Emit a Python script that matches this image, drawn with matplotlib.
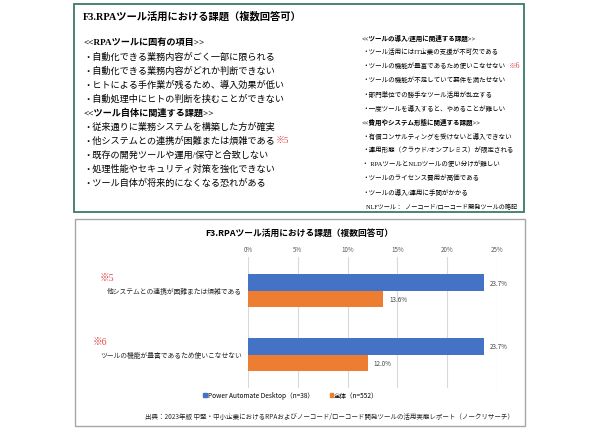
import numpy as np
import matplotlib
matplotlib.use('Agg')
import matplotlib.pyplot as plt
from matplotlib.patches import Rectangle, Patch

plt.rcParams['font.family'] = ['Noto Sans CJK JP', 'DejaVu Sans']

# text box contents
box_title = 'F3.RPAツール活用における課題（複数回答可）'
left_lines = [
    ('<<RPAツールに固有の項目>>', True),
    ('・自動化できる業務内容がごく一部に限られる', False),
    ('・自動化できる業務内容がどれか判断できない', False),
    ('・ヒトによる手作業が残るため、導入効果が低い', False),
    ('・自動処理中にヒトの判断を挟むことができない', False),
    ('<<ツール自体に関連する課題>>', True),
    ('・従来通りに業務システムを構築した方が確実', False),
    ('・他システムとの連携が困難または煩雑である', False),
    ('・既存の開発ツールや運用/保守と合致しない', False),
    ('・処理性能やセキュリティ対策を強化できない', False),
    ('・ツール自体が将来的になくなる恐れがある', False),
]
right_lines = [
    ('<<ツールの導入/運用に関連する課題>>', True),
    ('・ツール活用にはIT企業の支援が不可欠である', False),
    ('・ツールの機能が豊富であるため使いこなせない', False),
    ('・ツールの機能が不足していて要件を満たせない', False),
    ('・部門単位での勝手なツール活用が乱立する', False),
    ('・一度ツールを導入すると、やめることが難しい', False),
    ('<<費用やシステム形態に関連する課題>>', True),
    ('・有償コンサルティングを受けないと導入できない', False),
    ('・運用形態（クラウド/オンプレミス）が限定される', False),
    ('・ RPAツールとNLDツールの使い分けが難しい', False),
    ('・ツールのライセンス費用が高価である', False),
    ('・ツールの導入/運用に手間がかかる', False),
]
box_note = 'NLFツール：  ノーコード/ローコード開発ツールの略記'

# chart data
chart_title = 'F3.RPAツール活用における課題（複数回答可）'
categories = ['他システムとの連携が困難または煩雑である', 'ツールの機能が豊富であるため使いこなせない']
notes = ['※5', '※6']
pad_values = [23.7, 23.7]
all_values = [13.6, 12.0]
series_names = ['Power Automate Desktop（n=38）', '全体（n=552）']
xticks = [0, 5, 10, 15, 20, 25]
source = '出典：2023年版 中堅・中小企業におけるRPAおよびノーコード/ローコード開発ツールの活用実態レポート（ノークリサーチ）'

W, H = 590, 435
fig = plt.figure(figsize=(W / 100, H / 100), dpi=100)


def fx(x):
    return x / W


def fy(y):
    return 1 - y / H


red = '#e0474c'
serif_cjk = ['Liberation Serif', 'Noto Sans CJK JP']

# top box
fig.patches.append(Rectangle((fx(74), fy(213)), fx(450), 208 / H, transform=fig.transFigure,
                             fill=False, edgecolor='#3d7a68', lw=1.3))
fig.text(fx(83), fy(17), box_title, fontsize=7.4, fontweight='bold', family=serif_cjk,
         ha='left', va='center')
for i, (t, b) in enumerate(left_lines):
    fig.text(fx(83), fy(43 + 14 * i), t, fontsize=6.6, fontweight='bold' if b else 'normal',
             family=serif_cjk, ha='left', va='center')
fig.text(fx(276), fy(141), '※5', fontsize=6.5, color=red, family=serif_cjk, ha='left', va='center')
for i, (t, b) in enumerate(right_lines):
    fig.text(fx(362), fy(38 + 14 * i), t, fontsize=4.7, fontweight='bold' if b else 'normal',
             family=serif_cjk, ha='left', va='center')
fig.text(fx(509), fy(66), '※6', fontsize=5.5, color=red, family=serif_cjk, ha='left', va='center')
fig.text(fx(517), fy(207), box_note, fontsize=4.4, family=serif_cjk, ha='right', va='center')

# bottom box
fig.patches.append(Rectangle((fx(75), fy(427)), fx(450), 207 / H, transform=fig.transFigure,
                             fill=False, edgecolor='#a6a6a6', lw=1.0))
fig.text(fx(299), fy(233), chart_title, fontsize=6.3, fontweight='bold', ha='center', va='center')

ax = fig.add_axes([fx(248), fy(389), fx(249), 131 / H])
y = np.arange(len(categories))
h = 0.26
b1 = ax.barh(y - h / 2, pad_values, height=h, color='#4472C4', label=series_names[0], zorder=3)
b2 = ax.barh(y + h / 2, all_values, height=h, color='#ED7D31', label=series_names[1], zorder=3)
for bars, vals in ((b1, pad_values), (b2, all_values)):
    for bar, v in zip(bars, vals):
        ax.annotate(f'{v:.1f}%', (v, bar.get_y() + bar.get_height() / 2), xytext=(4, 0),
                    textcoords='offset points', fontsize=4.5, color='#404040', ha='left', va='center')
ax.set_xlim(0, 25)
ax.set_ylim(len(categories) - 1 + 0.52, -0.53)
ax.set_xticks(xticks)
ax.set_xticklabels([f'{t}%' for t in xticks], fontsize=4.5, color='#595959')
ax.xaxis.tick_top()
ax.tick_params(axis='x', length=0, pad=3)
ax.set_yticks([])
ax.grid(axis='x', color='#d9d9d9', lw=0.8, zorder=0)
for s in ax.spines.values():
    s.set_visible(False)

for i, (cat, note) in enumerate(zip(categories, notes)):
    yc = 292 + 64 * i
    fig.text(fx(242), fy(yc), cat, fontsize=4.9, ha='right', va='center', color='#262626')
    fig.text(fx(100 - 7 * i), fy(yc - 13), note, fontsize=7, color=red, family=serif_cjk,
             ha='left', va='center')

fig.legend(handles=[Patch(color='#4472C4', label=series_names[0]),
                    Patch(color='#ED7D31', label=series_names[1])],
           loc='center', bbox_to_anchor=(fx(291), fy(396)), ncol=2, frameon=False,
           fontsize=4.7, handlelength=0.5, handleheight=0.5, handletextpad=0.2, columnspacing=2.4)
fig.text(fx(514), fy(417), source, fontsize=4.7, ha='right', va='center', color='#262626')

fig.savefig('out.png', dpi=100)
